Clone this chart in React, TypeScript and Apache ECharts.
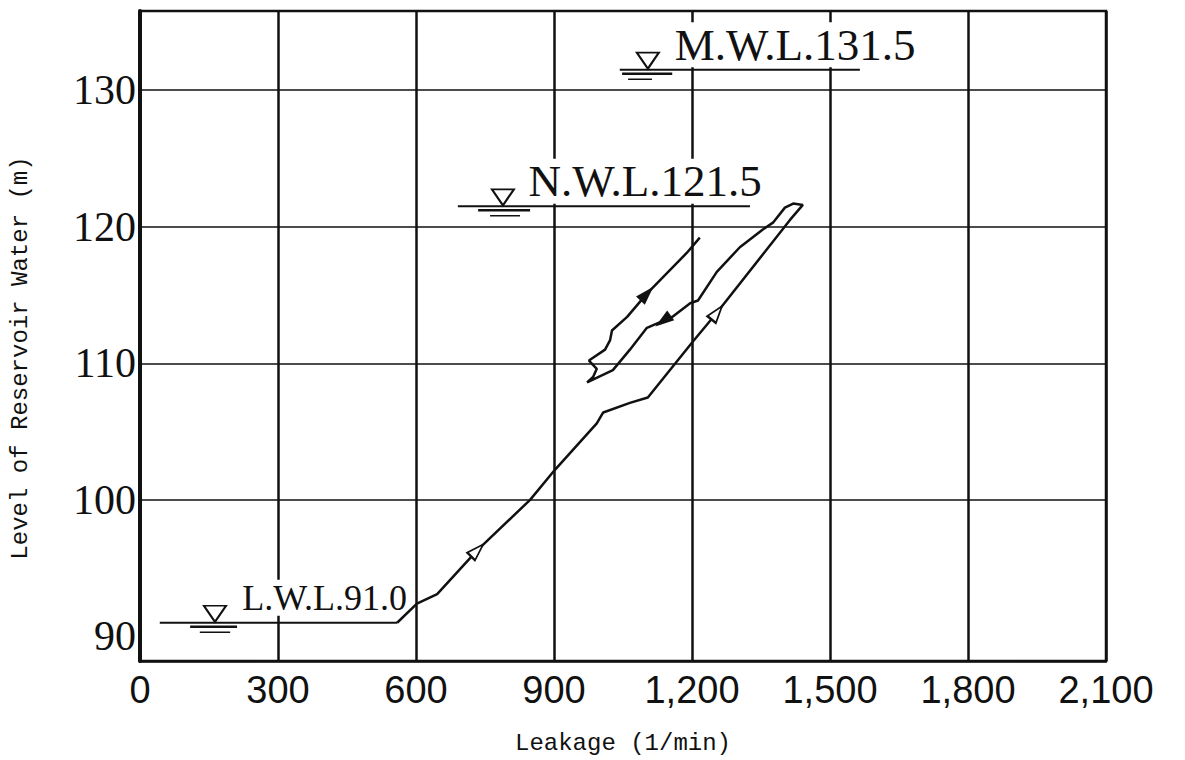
import React, { useEffect, useRef } from "react";
import * as echarts from "echarts";

// Axis ticks
const xTickValues = [0, 300, 600, 900, 1200, 1500, 1800, 2100];
const yTickValues = [90, 100, 110, 120, 130];
const yGridValues = [100, 110, 120, 130];

// Leakage curve (rising, falling back, rising again)
const curveLeakage = [
  559, 602, 646, 733, 848, 902, 993, 1007, 1065, 1104,
  1202, 1254, 1413, 1441, 1420, 1402,
  1376, 1354, 1304, 1254, 1213, 1196, 1157, 1102, 1065, 1028, 972,
  985, 993, 976, 1011, 1022, 1026, 1059, 1102, 1189, 1217,
];
const curveLevel = [
  91.0, 92.4, 93.1, 96.3, 100.0, 102.2, 105.6, 106.4, 107.1, 107.5,
  111.6, 113.7, 120.5, 121.6, 121.7, 121.4,
  120.3, 119.8, 118.5, 116.7, 114.6, 114.4, 113.4, 112.6, 111.0, 109.5, 108.6,
  109.0, 109.6, 110.2, 111.0, 111.7, 112.4, 113.4, 115.1, 118.1, 119.2,
];

// Direction arrows on the curve
const openArrowLeakage = [733, 1254];
const openArrowLevel = [96.3, 113.7];
const openArrowAngle = [-45, -38];
const filledArrowLeakage = [1137, 1102];
const filledArrowLevel = [113.1, 115.1];
const filledArrowAngle = [126, -43];

// Water levels (L.W.L., N.W.L., M.W.L.)
const waterLevels = [91.0, 121.5, 131.5];
const waterLabels = ["L.W.L.91.0", "N.W.L.121.5", "M.W.L.131.5"];
const waterLabelSizes = [36, 45, 45];
const waterLineStart = [43, 691, 1043];
const waterLineEnd = [559, 1326, 1565];
const waterMarkX = [163, 789, 1104];
const waterTextX = [217, 839, 1157];
const underlineStart = [109, 735, 1048];
const underlineEnd = [211, 848, 1157];
const dashStart = [130, 761, 1061];
const dashEnd = [196, 826, 1113];

const fmtThousands = (v: number) =>
  String(v).replace(/\B(?=(\d{3})+(?!\d))/g, ",");

export default function App() {
  const ref = useRef<HTMLDivElement>(null);

  useEffect(() => {
    if (!ref.current) return;
    const chart = echarts.init(ref.current, null, { renderer: "svg" });
    const ink = "#111";

    const series: any[] = [];

    // Horizontal grid lines
    series.push({
      type: "line",
      data: [],
      z: 0,
      silent: true,
      markLine: {
        silent: true,
        symbol: ["none", "none"],
        label: { show: false },
        lineStyle: { color: ink, width: 1.6, type: "solid" },
        data: yGridValues.map((v) => ({ yAxis: v })),
      },
    });

    // Water level lines, underlines, triangles and labels
    waterLevels.forEach((lv, i) => {
      series.push({
        type: "line",
        z: 2,
        silent: true,
        symbol: "none",
        lineStyle: { color: ink, width: 2 },
        data: [
          [waterLineStart[i], lv],
          [waterLineEnd[i], lv],
        ],
      });
      series.push({
        type: "line",
        z: 2,
        silent: true,
        symbol: "none",
        lineStyle: { color: ink, width: 2.5 },
        data: [
          [underlineStart[i], lv - 0.3],
          [underlineEnd[i], lv - 0.3],
        ],
      });
      series.push({
        type: "line",
        z: 2,
        silent: true,
        symbol: "none",
        lineStyle: { color: ink, width: 1.5 },
        data: [
          [dashStart[i], lv - 0.7],
          [dashEnd[i], lv - 0.7],
        ],
      });
      series.push({
        type: "scatter",
        z: 2,
        silent: true,
        symbol: "triangle",
        symbolRotate: 180,
        symbolSize: [22, 16],
        symbolOffset: [0, -9],
        itemStyle: { color: "#fff", borderColor: ink, borderWidth: 2, opacity: 1 },
        data: [[waterMarkX[i], lv]],
      });
      series.push({
        type: "scatter",
        z: 1,
        silent: true,
        symbolSize: 1,
        itemStyle: { color: "#fff", opacity: 1 },
        label: {
          show: true,
          position: "right",
          distance: 0,
          offset: [0, -25],
          formatter: () => waterLabels[i],
          fontFamily: "'Liberation Serif', 'Times New Roman', serif",
          fontSize: waterLabelSizes[i],
          color: ink,
          opacity: 1,
          backgroundColor: "#fff",
          padding: [0, 2],
        },
        data: [[waterTextX[i], lv]],
      });
    });

    // Main curve
    series.push({
      type: "line",
      z: 3,
      silent: true,
      symbol: "none",
      lineStyle: { color: ink, width: 2.5 },
      data: curveLeakage.map((x, i) => [x, curveLevel[i]]),
    });

    // Arrows
    openArrowLeakage.forEach((x, i) => {
      series.push({
        type: "scatter",
        z: 4,
        silent: true,
        symbol: "triangle",
        symbolSize: [11, 17],
        symbolRotate: openArrowAngle[i],
        itemStyle: { color: "#fff", borderColor: ink, borderWidth: 2, opacity: 1 },
        data: [[x, openArrowLevel[i]]],
      });
    });
    filledArrowLeakage.forEach((x, i) => {
      series.push({
        type: "scatter",
        z: 4,
        silent: true,
        symbol: "triangle",
        symbolSize: [12, 19],
        symbolRotate: filledArrowAngle[i],
        itemStyle: { color: ink, opacity: 1 },
        data: [[x, filledArrowLevel[i]]],
      });
    });

    chart.setOption({
      animation: false,
      backgroundColor: "#fff",
      grid: {
        left: 140,
        right: 79,
        top: 11,
        bottom: 99,
        show: true,
        borderColor: ink,
        borderWidth: 2.5,
        backgroundColor: "transparent",
      },
      xAxis: {
        type: "value",
        min: xTickValues[0],
        max: xTickValues[xTickValues.length - 1],
        interval: 300,
        name: "Leakage (1/min)",
        nameLocation: "middle",
        nameGap: 70,
        nameTextStyle: {
          fontFamily: "'Liberation Mono', 'DejaVu Sans Mono', monospace",
          fontSize: 24,
          color: ink,
        },
        axisLine: { show: true, lineStyle: { color: ink, width: 2.5 } },
        axisTick: { show: false },
        splitLine: { show: true, lineStyle: { color: ink, width: 2.5 } },
        axisLabel: {
          fontFamily: "'Liberation Sans', Arial, sans-serif",
          fontSize: 38,
          color: ink,
          margin: 10,
          formatter: (v: number) => fmtThousands(v),
        },
      },
      yAxis: {
        type: "value",
        min: 88.2,
        max: 135.8,
        name: "Level of Reservoir Water (m)",
        nameLocation: "middle",
        nameGap: 108,
        nameTextStyle: {
          fontFamily: "'Liberation Mono', 'DejaVu Sans Mono', monospace",
          fontSize: 24,
          color: ink,
          padding: [0, 44, 0, 0],
        },
        axisLine: { show: true, onZero: false, lineStyle: { color: ink, width: 4 } },
        axisTick: { show: false },
        splitLine: { show: false },
        axisLabel: {
          customValues: yTickValues,
          fontFamily: "'Liberation Serif', 'Times New Roman', serif",
          fontSize: 42,
          color: ink,
          margin: 4,
          padding: [14, 0, 0, 0],
        },
      },
      series,
    });

    return () => chart.dispose();
  }, []);

  return (
    <div
      ref={ref}
      style={{ position: "fixed", left: 0, top: 0, width: 1185, height: 760, background: "#fff" }}
    />
  );
}
